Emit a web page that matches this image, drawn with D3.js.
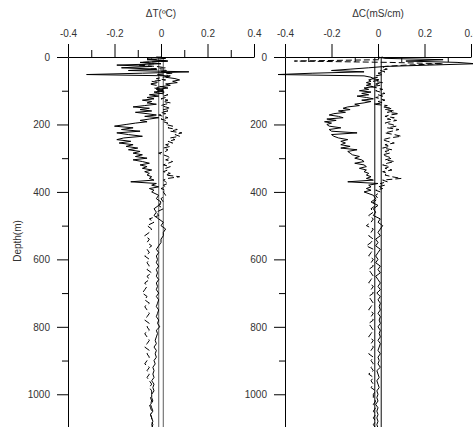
<!DOCTYPE html>
<html><head><meta charset="utf-8">
<script src="https://cdn.jsdelivr.net/npm/d3@7/dist/d3.min.js"></script>
<style>
body{margin:0;background:#fff;}
svg{display:block;font-family:"Liberation Sans",Arial,sans-serif;}
</style></head>
<body>
<svg id="chart" width="473" height="427"></svg>
<script>
// ---------- data ----------
const depths = [0,4,8,12,16,20,24,28,32,36,40,44,48,52,56,60,64,68,72,76,80,84,88,92,96,100,104,108,112,116,120,124,128,132,136,140,144,148,152,156,160,164,168,172,176,180,184,188,192,196,200,
205,210,215,220,225,230,235,240,245,250,255,260,265,270,275,280,285,290,295,300,305,310,315,320,325,330,335,340,345,350,355,360,365,370,375,380,385,390,395,400,
410,420,430,440,450,460,470,480,490,500,510,520,530,540,550,560,570,580,590,600,610,620,630,640,650,660,670,680,690,700,710,720,730,740,750,760,770,780,790,800,810,820,830,840,850,860,870,880,890,900,910,920,930,940,950,960,970,980,990,1000,1010,1020,1030,1040,1050,1060,1070,1080,1090,1100];

const dT_solid = [-0.02,0.02,-0.06,0.03,-0.09,0.0,-0.19,-0.04,-0.17,-0.02,-0.14,0.12,-0.08,-0.32,0.04,0.02,0.06,0.08,0.05,0.07,0.02,0.04,0.0,0.03,-0.02,0.01,-0.03,0.0,-0.05,-0.01,-0.06,-0.03,-0.08,-0.04,-0.06,-0.02,-0.07,-0.12,-0.05,-0.09,-0.04,-0.11,-0.06,-0.02,-0.07,-0.01,-0.05,-0.09,-0.06,-0.11,-0.15,
-0.2,-0.12,-0.17,-0.09,-0.19,-0.14,-0.08,-0.16,-0.19,-0.13,-0.18,-0.12,-0.15,-0.1,-0.14,-0.09,-0.12,-0.08,-0.11,-0.06,-0.12,-0.08,-0.05,-0.09,-0.06,-0.08,-0.04,-0.07,-0.05,-0.06,-0.04,-0.05,-0.03,-0.13,-0.02,-0.04,-0.01,-0.05,-0.03,-0.04,
-0.01,-0.02,0.0,-0.01,-0.03,-0.02,-0.03,-0.01,0.01,0.0,0.02,0.01,0.01,0.0,0.0,-0.01,-0.02,-0.01,-0.02,-0.015,-0.02,-0.01,-0.02,-0.015,-0.02,-0.01,-0.02,-0.015,-0.02,-0.01,-0.02,-0.01,-0.015,-0.02,-0.01,-0.015,-0.02,-0.01,-0.015,-0.005,-0.02,-0.015,-0.02,-0.025,-0.02,-0.03,-0.02,-0.025,-0.02,-0.03,-0.025,-0.035,-0.03,-0.035,-0.03,-0.04,-0.03,-0.035,-0.03,-0.04,-0.04,-0.035,-0.045,-0.04,-0.035,-0.045,-0.04,-0.035,-0.04,-0.035];

const dT_dashed = [0.0,-0.06,-0.02,0.03,-0.08,-0.03,-0.1,-0.02,0.02,-0.05,0.03,0.0,0.05,-0.02,0.03,0.01,-0.02,0.02,-0.04,-0.01,-0.05,-0.02,0.0,-0.03,0.01,-0.02,0.02,0.0,0.03,0.01,0.02,0.0,0.03,0.01,0.04,0.02,0.0,0.02,0.04,0.01,0.03,0.0,0.02,-0.01,0.01,0.03,0.0,0.02,0.01,0.03,0.02,
0.05,0.03,0.07,0.04,0.09,0.06,0.08,0.04,0.06,0.03,0.05,0.02,0.04,0.01,0.03,0.02,-0.01,0.01,0.03,0.04,0.02,0.05,0.03,0.01,0.04,0.02,0.03,0.01,0.04,0.02,0.08,0.03,0.01,0.02,0.03,0.01,0.02,0.0,0.02,0.01,
0.02,0.0,0.01,-0.01,0.01,-0.02,-0.01,-0.05,-0.03,-0.06,-0.04,-0.05,-0.07,-0.05,-0.06,-0.04,-0.06,-0.05,-0.07,-0.05,-0.06,-0.05,-0.06,-0.04,-0.06,-0.05,-0.07,-0.06,-0.07,-0.08,-0.06,-0.07,-0.05,-0.07,-0.06,-0.05,-0.06,-0.07,-0.05,-0.06,-0.05,-0.07,-0.06,-0.05,-0.06,-0.07,-0.05,-0.06,-0.05,-0.06,-0.07,-0.05,-0.06,-0.05,-0.06,-0.05,-0.04,-0.05,-0.04,-0.04,-0.045,-0.04,-0.05,-0.045,-0.04,-0.045,-0.04,-0.04,-0.035,-0.04];

const dC_solid = [0.0,0.03,0.28,0.12,0.34,0.42,0.22,0.03,-0.04,-0.12,-0.2,-0.06,-0.28,-0.43,-0.06,-0.03,-0.02,-0.04,-0.03,-0.05,-0.03,-0.05,-0.02,-0.06,-0.04,-0.08,-0.03,-0.07,-0.04,-0.09,-0.05,-0.02,-0.07,-0.03,-0.06,-0.1,-0.08,-0.13,-0.15,-0.12,-0.17,-0.14,-0.19,-0.21,-0.17,-0.15,-0.22,-0.18,-0.23,-0.2,-0.22,
-0.21,-0.16,-0.21,-0.2,-0.09,-0.2,-0.19,-0.17,-0.13,-0.16,-0.14,-0.16,-0.12,-0.16,-0.09,-0.13,-0.12,-0.11,-0.08,-0.1,-0.07,-0.06,-0.1,-0.06,-0.05,-0.08,-0.05,-0.06,-0.04,-0.05,-0.03,-0.05,-0.02,-0.13,0.0,-0.04,-0.03,-0.05,-0.03,-0.06,
-0.02,-0.01,-0.03,0.0,-0.02,-0.01,-0.02,0.01,0.0,0.02,0.01,0.0,0.01,-0.01,0.0,-0.01,0.01,0.0,-0.01,0.0,-0.01,0.01,0.0,0.01,-0.01,0.0,0.01,0.0,0.01,-0.005,0.01,0.0,0.01,0.005,0.01,0.0,0.01,0.005,0.01,0.0,0.01,0.005,0.01,0.0,0.01,0.005,0.0,0.01,0.0,0.005,0.0,0.01,-0.005,0.0,0.005,-0.005,0.0,0.005,-0.005,0.0,-0.005,0.0,-0.01,0.0,-0.005,0.0,-0.005,0.0,-0.005,0.0];

const dC_dashed = [0.02,0.0,0.01,-0.36,0.05,0.28,0.12,0.03,0.02,0.04,0.01,0.03,0.0,0.02,-0.01,0.0,-0.03,0.01,-0.02,0.02,-0.01,0.01,-0.03,0.0,0.02,-0.01,0.01,0.03,0.0,0.02,-0.01,0.01,0.03,0.0,0.02,-0.02,0.04,0.02,0.06,0.03,0.07,0.04,0.09,0.05,0.03,0.07,0.04,0.08,0.05,0.03,0.06,
0.08,0.04,0.09,0.06,0.03,0.07,0.1,0.05,0.02,0.04,0.07,0.03,0.05,0.02,0.06,0.03,0.05,0.02,0.04,0.06,0.03,0.07,0.04,0.02,0.05,0.03,0.06,0.02,0.04,0.03,0.06,0.1,0.02,0.04,0.01,0.03,0.0,0.02,-0.01,0.01,
-0.01,0.0,-0.02,-0.01,-0.03,-0.02,-0.04,-0.02,-0.03,-0.05,-0.02,-0.03,-0.04,-0.02,-0.03,-0.05,-0.02,-0.03,-0.04,-0.02,-0.03,-0.02,-0.04,-0.03,-0.02,-0.03,-0.04,-0.02,-0.03,-0.02,-0.04,-0.03,-0.02,-0.03,-0.04,-0.02,-0.03,-0.02,-0.04,-0.03,-0.02,-0.03,-0.04,-0.02,-0.03,-0.02,-0.03,-0.04,-0.02,-0.03,-0.02,-0.03,-0.02,-0.04,-0.02,-0.03,-0.02,-0.03,-0.01,-0.02,-0.02,-0.01,-0.02,-0.01,-0.02,-0.01,-0.02,-0.01,-0.02,-0.01];

const refT = [-0.01, 0.01];
const refC = [-0.014, 0.014];
const xMajorTicks = [-0.4, -0.2, 0, 0.2, 0.4];
const xMinorTicks = [-0.3, -0.1, 0.1, 0.3];
const depthMajorTicks = [0, 200, 400, 600, 800, 1000];
const depthMinorTicks = [100, 300, 500, 700, 900];
const titleT = "ΔT(ºC)";
const titleC = "ΔC(mS/cm)";
const depthLabel = "Depth(m)";

// ---------- drawing ----------
const svg = d3.select("#chart");
const y = d3.scaleLinear().domain([0, 1100]).range([57, 428]);

function panel(x0, x1, solid, dashed, refs, title, refColor, minorDown) {
  const x = d3.scaleLinear().domain([-0.4, 0.4]).range([x0, x1]);
  const g = svg.append("g");

  // reference lines
  g.selectAll("line.ref").data(refs).join("line")
    .attr("x1", d => x(d)).attr("x2", d => x(d))
    .attr("y1", y(0)).attr("y2", 427)
    .attr("stroke", refColor).attr("stroke-width", 1.2);

  const line = vals => d3.line().x((d, i) => x(vals[i])).y(d => y(d))(depths);

  g.append("path").attr("d", line(dashed))
    .attr("fill", "none").attr("stroke", "#000").attr("stroke-width", 1)
    .attr("stroke-dasharray", "6,3");
  g.append("path").attr("d", line(solid))
    .attr("fill", "none").attr("stroke", "#000").attr("stroke-width", 1);

  // top axis (major)
  const ax = g.append("g").attr("transform", `translate(0,${y(0)})`)
    .call(d3.axisTop(x).tickValues(xMajorTicks).tickSize(13).tickSizeOuter(0)
      .tickPadding(7).tickFormat(d => String(d)));
  // minor x ticks
  const axm = g.append("g").attr("transform", `translate(0,${y(0)})`)
    .call((minorDown ? d3.axisBottom(x).tickSize(5) : d3.axisTop(x).tickSize(7))
      .tickValues(xMinorTicks).tickSizeOuter(0).tickFormat(""));
  axm.select(".domain").remove();

  // left axis
  const ay = g.append("g").attr("transform", `translate(${x0},0)`)
    .call(d3.axisLeft(y).tickValues(depthMajorTicks).tickSize(11).tickSizeOuter(0)
      .tickPadding(7).tickFormat(d => String(d)));
  const aym = g.append("g").attr("transform", `translate(${x0},0)`)
    .call(d3.axisLeft(y).tickValues(depthMinorTicks).tickSize(6).tickSizeOuter(0).tickFormat(""));
  aym.select(".domain").remove();

  [ax, axm, ay, aym].forEach(a => {
    a.selectAll("text").attr("font-size", 10).attr("fill", "#333")
      .attr("font-family", '"Liberation Sans",Arial,sans-serif');
    a.selectAll("line,path").attr("stroke", "#000");
  });

  g.append("text").attr("x", x(0)).attr("y", 17).attr("text-anchor", "middle")
    .attr("font-size", 10).attr("fill", "#333").text(title);
}

panel(68, 254, dT_solid, dT_dashed, refT, titleT, "#777", false);
panel(285, 471, dC_solid, dC_dashed, refC, titleC, "#333", true);

svg.append("text").attr("transform", "translate(21,241) rotate(-90)")
  .attr("text-anchor", "middle").attr("font-size", 10).attr("fill", "#333")
  .text(depthLabel);
</script>
</body></html>
